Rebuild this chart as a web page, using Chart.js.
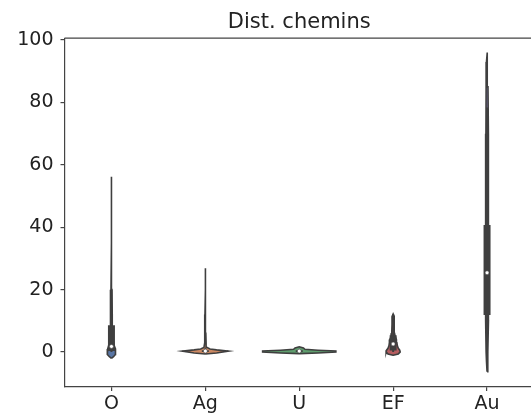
<!DOCTYPE html>
<html><head><meta charset="utf-8">
<script src="https://cdn.jsdelivr.net/npm/chart.js@4/dist/chart.umd.min.js"></script>
<style>html,body{margin:0;padding:0;overflow:hidden;background:#fff}#wrap{position:relative;width:540px;height:419px}</style>
</head><body><div id="wrap"><canvas id="c"></canvas></div>
<script>
const categories = ['O', 'Ag', 'U', 'EF', 'Au'];
const yTicks = [0, 20, 40, 60, 80, 100];
const yMin = -11.2, yMax = 100.6;

// inner box statistics
const q1 = [0.3, 0.0, 0.0, 0.5, 11.9];
const medians = [1.8, 0.3, 0.3, 2.6, 25.4];
const q3 = [8.6, 0.6, 0.6, 5.4, 40.7];
const whiskerLow = [0, 0, 0, 0, -0.3];
const whiskerHigh = [20, 1.2, 1.0, 12.0, 78.4];

// violin outlines: y values and half-widths (category units)
const oY = [-2.0, -1.5, -0.8, 0, 1, 2, 3, 5, 8, 12, 20, 35, 56.2];
const oW = [0, 0.022, 0.042, 0.046, 0.04, 0.03, 0.022, 0.014, 0.01, 0.007, 0.005, 0.004, 0];
const agY = [-0.6, -0.3, 0.3, 0.7, 1.0, 1.5, 3, 6, 12, 20, 26.9];
const agW = [0, 0.12, 0.245, 0.12, 0.05, 0.015, 0.008, 0.005, 0.004, 0.003, 0];
const uY = [-0.5, -0.3, 0, 0.3, 0.6, 0.9, 1.3, 1.7];
const uW = [0, 0.2, 0.39, 0.39, 0.2, 0.06, 0.045, 0];
const efY = [-1.0, -0.6, 0, 0.6, 1.2, 2, 3, 4, 5, 6, 9, 11.5, 12.2];
const efW = [0, 0.055, 0.075, 0.07, 0.055, 0.045, 0.04, 0.035, 0.022, 0.015, 0.012, 0.01, 0];
const auY = [-6.3, -3, 0, 10, 20, 30, 40, 55, 70, 85, 93, 96];
const auW = [0, 0.006, 0.01, 0.015, 0.016, 0.016, 0.015, 0.013, 0.012, 0.01, 0.006, 0];

const violinY = [oY, agY, uY, efY, auY];
const violinW = [oW, agW, uW, efW, auW];
const fills = ['#5875a4', '#cc8963', '#5f9e6e', '#b55d60', '#857ab3'];
const edge = '#3f3f3f';

const datasets = [];
categories.forEach((c, i) => {
  const ys = violinY[i], ws = violinW[i];
  const pts = ys.map((y, k) => ({x: i + ws[k], y}));
  for (let k = ys.length - 1; k >= 0; k--) pts.push({x: i - ws[k], y: ys[k]});
  datasets.push({data: pts, showLine: true, fill: 'shape', backgroundColor: fills[i],
    borderColor: edge, borderWidth: 1.6, pointRadius: 0, tension: 0, order: 3});
  datasets.push({data: [{x: i, y: whiskerLow[i]}, {x: i, y: whiskerHigh[i]}], showLine: true,
    borderColor: edge, borderWidth: 2, pointRadius: 0, order: 2});
  datasets.push({data: [{x: i, y: q1[i]}, {x: i, y: q3[i]}], showLine: true,
    borderColor: edge, borderWidth: 7, borderCapStyle: 'butt', pointRadius: 0, order: 1});
  datasets.push({data: [{x: i, y: medians[i]}], pointRadius: 2, backgroundColor: '#ffffff',
    borderColor: edge, borderWidth: 0.6, order: 0});
});

const frame = {
  id: 'frame',
  afterDraw(chart) {
    const {ctx, chartArea: a} = chart;
    ctx.save();
    ctx.strokeStyle = '#444'; ctx.lineWidth = 1.2;
    ctx.beginPath(); ctx.moveTo(a.left, a.top); ctx.lineTo(a.right, a.top); ctx.lineTo(a.right, a.bottom);
    ctx.stroke(); ctx.restore();
  }
};

Chart.defaults.font.family = 'DejaVu Sans';
new Chart(document.getElementById('c'), {
  type: 'scatter',
  data: {datasets},
  plugins: [frame],
  options: {
    responsive: true, maintainAspectRatio: false, animation: false, devicePixelRatio: 1,
    layout: {padding: {top: 0, right: 6, left: 0, bottom: 0}},
    plugins: {
      legend: {display: false}, tooltip: {enabled: false},
      title: {display: true, text: 'Dist. chemins', fullSize: false, color: '#222',
        font: {size: 21, weight: 'normal', family: 'DejaVu Sans'}, padding: {top: 9.5, bottom: 3.5}}
    },
    scales: {
      x: {
        type: 'linear', min: -0.5, max: 4.5,
        afterBuildTicks: s => { s.ticks = categories.map((c, i) => ({value: i})); },
        afterFit: s => { s.height = 32; },
        ticks: {callback: v => categories[v] ?? '', autoSkip: false, maxRotation: 0, padding: 2,
          color: '#222', font: {size: 19}},
        grid: {drawOnChartArea: false, tickLength: 4, color: '#444', lineWidth: 1.2},
        border: {color: '#444', width: 1.2}
      },
      y: {
        min: yMin, max: yMax,
        afterBuildTicks: s => { s.ticks = yTicks.map(v => ({value: v})); },
        afterFit: s => { s.width = 64.5; },
        ticks: {padding: 7, color: '#222', font: {size: 19}},
        grid: {drawOnChartArea: false, tickLength: 4, color: '#444', lineWidth: 1.2},
        border: {color: '#444', width: 1.2}
      }
    }
  }
});
</script></body></html>
